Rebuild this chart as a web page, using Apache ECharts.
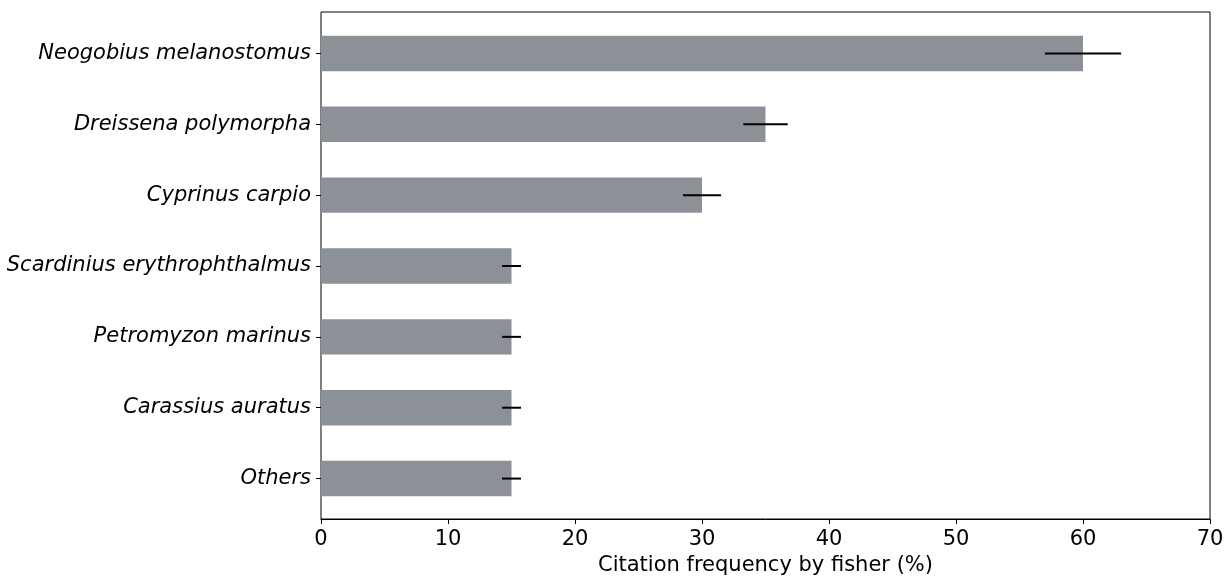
<!DOCTYPE html>
<html><head><meta charset="utf-8">
<script src="https://cdn.jsdelivr.net/npm/echarts@6/dist/echarts.min.js"></script>
<style>html,body{margin:0;padding:0;background:#fff}#c{width:1225px;height:576px}</style>
</head><body><div id="c"></div>
<script>
const categories = ['Neogobius melanostomus','Dreissena polymorpha','Cyprinus carpio','Scardinius erythrophthalmus','Petromyzon marinus','Carassius auratus','Others'];
const values = [60, 35, 30, 15, 15, 15, 15];
const errors = [3, 1.75, 1.5, 0.75, 0.75, 0.75, 0.75];
const xTicks = [0,10,20,30,40,50,60,70];

const font = 'DejaVu Sans';
const chart = echarts.init(document.getElementById('c'));
chart.setOption({
  animation: false,
  grid: [
    {left: 321, right: 15, top: 12, bottom: 57, show: true, borderColor: '#000', borderWidth: 1,
     backgroundColor: 'transparent', containLabel: false, outerBoundsMode: 'none'},
    {left: 321, right: 15, top: 18, bottom: 62, containLabel: false, outerBoundsMode: 'none'}
  ],
  xAxis: [
    {gridIndex: 0, type: 'value', min: 0, max: 70, interval: 10,
     axisLine: {show: true, lineStyle: {color: '#000'}},
     axisTick: {show: true, length: 5, lineStyle: {color: '#000'}},
     splitLine: {show: false},
     axisLabel: {color: '#000', fontFamily: font, fontSize: 21, margin: 10,
       formatter: v => xTicks.includes(v) ? String(v) : ''},
     name: 'Citation frequency by fisher (%)', nameLocation: 'middle', nameGap: 33,
     nameTextStyle: {color: '#000', fontFamily: font, fontSize: 21}},
    {gridIndex: 1, type: 'value', min: 0, max: 70, show: false}
  ],
  yAxis: [
    {gridIndex: 0, type: 'value', min: 0, max: 1, show: false},
    {gridIndex: 1, type: 'category', data: categories, inverse: true,
     axisLine: {show: false},
     axisTick: {show: true, alignWithLabel: true, length: 5, lineStyle: {color: '#000'}},
     axisLabel: {color: '#000', fontFamily: font, fontStyle: 'italic', fontSize: 21, margin: 10}}
  ],
  series: [
    {type: 'bar', xAxisIndex: 1, yAxisIndex: 1, data: values, barWidth: '50%', z: 2,
     itemStyle: {color: '#8c9097'}, silent: true},
    {type: 'custom', xAxisIndex: 1, yAxisIndex: 1, silent: true, z: 10,
     data: values.map((v, i) => [v - errors[i], v + errors[i], i]),
     renderItem: (params, api) => {
       const a = api.coord([api.value(0), api.value(2)]);
       const b = api.coord([api.value(1), api.value(2)]);
       return {type: 'line', shape: {x1: a[0], y1: a[1], x2: b[0], y2: b[1]},
               style: {stroke: '#000', lineWidth: 2}};
     }}
  ]
});
</script></body></html>
